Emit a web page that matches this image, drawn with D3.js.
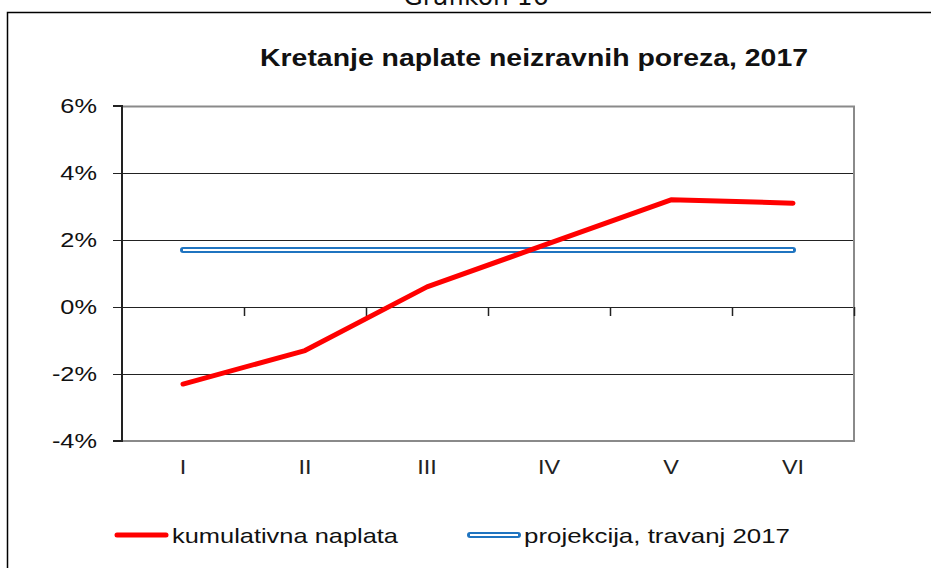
<!DOCTYPE html>
<html>
<head>
<meta charset="utf-8">
<script src="https://cdn.jsdelivr.net/npm/d3@7"></script>
<style>
  body { margin: 0; background: #fff; }
  svg { display: block; font-family: "Liberation Sans", Arial, sans-serif; }
</style>
</head>
<body>
<script>
// data
const months = ["I", "II", "III", "IV", "V", "VI"];
const kumulativna = [-2.3, -1.3, 0.6, 1.9, 3.2, 3.1];
const projekcija = [1.7, 1.7, 1.7, 1.7, 1.7, 1.7];
const yTicks = [-4, -2, 0, 2, 4, 6];
const seriesNames = ["kumulativna naplata", "projekcija, travanj 2017"];

const w = 931;
const h = 568;
const margin = { top: 106, right: 77, bottom: 127, left: 122 };

const svg = d3.select("body")
  .append("svg")
  .attr("width", w)
  .attr("height", h);

// text in the source is a bit wider than Arial, stretch it
function stretch(sel, k) {
  sel.each(function() {
    const len = this.getComputedTextLength();
    d3.select(this)
      .attr("textLength", len * k)
      .attr("lengthAdjust", "spacingAndGlyphs");
  });
}

// outer frame + caption
svg.append("rect")
  .attr("x", 7.5).attr("y", 12.5)
  .attr("width", w + 20).attr("height", h + 20)
  .attr("fill", "none").attr("stroke", "#000").attr("stroke-width", 1.5);

svg.append("text")
  .attr("x", 476).attr("y", 5)
  .attr("text-anchor", "middle")
  .attr("font-family", "DejaVu Sans, Verdana, sans-serif")
  .attr("font-size", 25)
  .attr("fill", "#111")
  .text("Grafikon 16");

svg.append("text")
  .attr("x", 260).attr("y", 66)
  .attr("font-size", 23)
  .attr("font-weight", "bold")
  .attr("fill", "#111")
  .attr("textLength", 548)
  .attr("lengthAdjust", "spacingAndGlyphs")
  .text("Kretanje naplate neizravnih poreza,  2017");

const xScale = d3.scaleBand()
  .domain(months)
  .range([margin.left, w - margin.right]);
const yScale = d3.scaleLinear()
  .domain([-4, 6])
  .range([h - margin.bottom, margin.top]);

const x0 = margin.left, x1 = w - margin.right;

// gridlines
svg.append("g")
  .selectAll("line")
  .data(yTicks.filter(d => d > -4 && d < 6))
  .enter()
  .append("line")
  .attr("x1", x0).attr("x2", x1)
  .attr("y1", d => Math.round(yScale(d)) + 0.5)
  .attr("y2", d => Math.round(yScale(d)) + 0.5)
  .attr("stroke", "#222");

// plot border (top, right, bottom gray)
svg.append("path")
  .attr("d", `M${x0},${Math.round(yScale(6)) + 0.5}H${x1}V${Math.round(yScale(-4))}H${x0}`)
  .attr("fill", "none")
  .attr("stroke", "#8a8a8a")
  .attr("stroke-width", 2);

// y axis
const yAxis = d3.axisLeft(yScale)
  .tickValues(yTicks)
  .tickFormat(d => d + "%")
  .tickSize(9)
  .tickPadding(16);
svg.append("g")
  .attr("transform", `translate(${x0}, 0)`)
  .call(yAxis)
  .call(g => g.select(".domain").attr("stroke", "#222").attr("stroke-width", 2).attr("d", `M-9,${yScale(6)}H0V${yScale(-4)}H-9`))
  .call(g => g.selectAll(".tick line").attr("stroke", "#222"))
  .call(g => g.selectAll(".tick text")
    .attr("font-size", 19.5).attr("fill", "#111")
    .attr("font-family", "Liberation Sans, Arial, sans-serif")
    .call(stretch, 1.3));

// x axis at 0 with ticks between categories
const boundaries = months.map(m => xScale(m) + xScale.bandwidth());
svg.append("g")
  .selectAll("line")
  .data(boundaries)
  .enter()
  .append("line")
  .attr("x1", d => Math.round(d) + 0.5).attr("x2", d => Math.round(d) + 0.5)
  .attr("y1", Math.round(yScale(0))).attr("y2", Math.round(yScale(0)) + 9)
  .attr("stroke", "#222").attr("stroke-width", 1.5);

// category labels
svg.append("g")
  .selectAll("text")
  .data(months)
  .enter()
  .append("text")
  .attr("x", d => xScale(d) + xScale.bandwidth() / 2)
  .attr("y", h - margin.bottom + 33)
  .attr("text-anchor", "middle")
  .attr("font-size", 19.5)
  .attr("fill", "#222")
  .text(d => d)
  .call(stretch, 1.2);

const line = d3.line()
  .x((d, i) => xScale(months[i]) + xScale.bandwidth() / 2)
  .y(d => yScale(d));

// projekcija: double line
svg.append("path")
  .datum(projekcija)
  .attr("d", line)
  .attr("fill", "none")
  .attr("stroke", "#1f74c0")
  .attr("stroke-width", 6)
  .attr("stroke-linecap", "round");
svg.append("path")
  .datum(projekcija)
  .attr("d", line)
  .attr("fill", "none")
  .attr("stroke", "#fff")
  .attr("stroke-width", 2);

// kumulativna
svg.append("path")
  .datum(kumulativna)
  .attr("d", line)
  .attr("fill", "none")
  .attr("stroke", "#ff0000")
  .attr("stroke-width", 5)
  .attr("stroke-linejoin", "round")
  .attr("stroke-linecap", "round");

// legend
const legend = svg.append("g");
const lx = [115, 467];
const tw = [226, 266];
legend.selectAll("g")
  .data(seriesNames)
  .enter()
  .append("g")
  .each(function(d, i) {
    const g = d3.select(this);
    if (i === 0) {
      g.append("line")
        .attr("x1", lx[i] + 2).attr("x2", lx[i] + 51)
        .attr("y1", 535).attr("y2", 535)
        .attr("stroke", "#ff0000").attr("stroke-width", 5)
        .attr("stroke-linecap", "round");
    } else {
      g.append("line")
        .attr("x1", lx[i] + 3).attr("x2", lx[i] + 51)
        .attr("y1", 535).attr("y2", 535)
        .attr("stroke", "#1f74c0").attr("stroke-width", 6)
        .attr("stroke-linecap", "round");
      g.append("line")
        .attr("x1", lx[i] + 3).attr("x2", lx[i] + 51)
        .attr("y1", 535).attr("y2", 535)
        .attr("stroke", "#fff").attr("stroke-width", 2);
    }
    g.append("text")
      .attr("x", lx[i] + 57)
      .attr("y", 543)
      .attr("font-size", 21)
      .attr("fill", "#111")
      .attr("textLength", tw[i])
      .attr("lengthAdjust", "spacingAndGlyphs")
      .text(d);
  });
</script>
</body>
</html>
